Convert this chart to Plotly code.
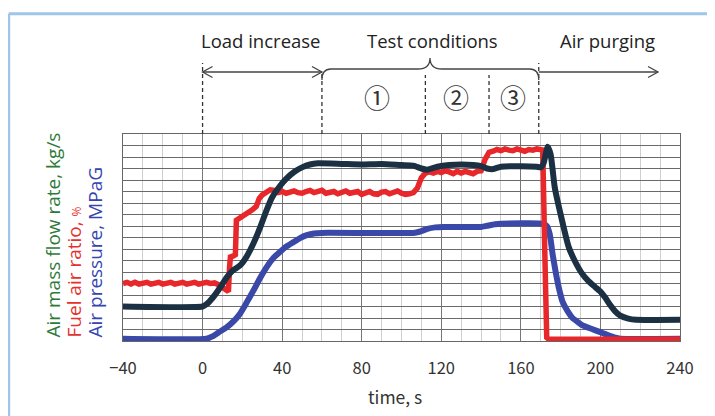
import plotly.graph_objects as go

# ---------------- data (grid units, 0..18) ----------------
t_air = [-40, 0, 2, 5.5, 9, 12, 15, 19, 22, 25.6, 29, 32, 35, 39, 42, 46, 50, 54, 58,
         70, 80, 90, 100, 106, 110, 113, 118, 124, 130, 136, 140, 143, 146, 150, 160,
         168, 170, 171.5, 173.5, 175, 177, 180, 184, 187, 190.6, 194, 197.3, 200,
         202.3, 205, 207.3, 210, 214, 218, 240]
air_flow = [3.0, 3.0, 3.2, 3.85, 4.7, 5.5, 6.1, 6.6, 7.3, 8.5, 9.9, 11.3, 12.5, 13.5,
            14.1, 14.7, 15.1, 15.35, 15.45, 15.4, 15.35, 15.4, 15.3, 15.25, 15.0, 14.9,
            15.15, 15.3, 15.35, 15.3, 15.2, 15.0, 14.95, 15.15, 15.2, 15.15, 15.1, 15.5,
            16.9, 16.2, 13.4, 11.0, 8.2, 7.0, 5.9, 5.2, 4.7, 4.3, 3.8, 3.1, 2.6, 2.2,
            1.95, 1.85, 1.85]

t_far = [-40, -38, -36, -34, -32, -30, -28, -26, -24, -22, -20, -18, -16, -14, -12, -10,
         -8, -6, -4, -2, 0, 2, 4, 6, 8, 10, 12, 13, 13.6, 14, 15.5, 16.5, 17, 19, 21, 23,
         25, 27, 28.5, 30, 32, 34, 36, 38, 40, 42, 44, 46, 48, 50, 52, 54, 56, 58, 60,
         62, 64, 66, 68, 70, 72, 74, 76, 78, 80, 82, 84, 86, 88, 90, 92, 94, 96, 98, 100,
         102, 104, 106, 108, 110, 112, 114, 116, 118, 120, 122, 124, 126, 128, 130, 132,
         134, 136, 138, 140, 142, 144, 146, 148, 150, 152, 154, 156, 158, 160, 162, 164,
         166, 168, 170, 171, 172, 173, 174, 240]
fuel_air = [5.0, 5.1, 4.95, 5.1, 4.95, 5.05, 5.1, 4.95, 5.05, 5.1, 4.95, 5.05, 5.1, 4.95,
            5.05, 5.1, 4.95, 5.0, 5.1, 4.95, 5.05, 5.1, 5.0, 5.05, 4.9, 4.7, 4.45, 4.3,
            6.5, 7.3, 7.4, 7.5, 10.5, 10.7, 11.0, 11.2, 11.4, 11.7, 12.4, 12.7, 13.0,
            13.15, 13.1, 12.9, 13.0, 12.85, 12.95, 13.05, 12.9, 12.85, 13.0, 13.1, 12.9,
            12.95, 13.1, 12.85, 12.95, 13.0, 12.8, 12.9, 13.05, 12.85, 12.9, 13.0, 12.75,
            12.85, 13.0, 12.8, 12.75, 12.95, 13.0, 12.8, 12.9, 13.05, 12.85, 12.75, 12.8,
            12.9, 13.3, 14.2, 14.6, 14.7, 14.6, 14.75, 14.65, 14.8, 14.7, 14.55, 14.75,
            14.6, 14.75, 14.65, 14.55, 14.75, 14.8, 15.8, 16.4, 16.5, 16.65, 16.55, 16.7,
            16.6, 16.55, 16.7, 16.6, 16.5, 16.65, 16.6, 16.7, 16.7, 16.6, 8.0, 0.3, 0.15,
            0.15]

t_pres = [-40, 2, 5, 8.5, 12.2, 15.5, 18.9, 22, 25.6, 29, 32.3, 35.5, 39, 42, 45.7, 49,
          52.4, 56, 60, 106, 109, 113, 117, 121, 140, 143, 147, 150, 171, 173, 174.5, 176,
          177.5, 179, 181, 183.5, 186, 189, 191, 194, 197.5, 201, 204, 207, 210, 240]
air_pres = [0.2, 0.2, 0.4, 0.8, 1.2, 1.7, 2.4, 3.3, 4.4, 5.5, 6.45, 7.2, 7.76, 8.2, 8.6,
            8.95, 9.2, 9.35, 9.4, 9.4, 9.5, 9.75, 9.88, 9.92, 9.92, 10.02, 10.15, 10.2,
            10.2, 10.0, 9.3, 7.5, 6.0, 4.7, 3.4, 2.6, 2.0, 1.6, 1.35, 1.15, 0.93, 0.7,
            0.5, 0.32, 0.2, 0.2]

x_ticks = [-40, 0, 40, 80, 120, 160, 200, 240]
phase_bounds = [0, 60, 112, 144, 169]
phase_labels = ["Load increase", "Test conditions", "Air purging"]
cond_labels = ["①", "②", "③"]
y_titles = ["Air mass flow rate, kg/s",
            "Fuel air ratio, <span style='font-size:12px'>%</span>",
            "Air pressure, MPaG"]

NAVY = "#1b3043"
RED = "#e8272a"
BLUE = "#3a49a8"
FONT = "Open Sans"
NUMFONT = "Noto Sans CJK JP"

# geometry (reference-window pixels); page body has 8px margin -> offset
OFF = 8
FW, FH = 715 - OFF, 416 - OFF
L, T, W, H = 123 - OFF, 134 - OFF, 557, 207


def py(p):  # reference pixel y -> paper y
    return (T + H - (p - OFF)) / H


def px(p):  # reference pixel x -> paper x
    return ((p - OFF) - L) / W


def tx(p):  # reference pixel x -> data x
    return -40 + ((p - OFF) - L) * 280 / W


fig = go.Figure()
fig.add_trace(go.Scatter(x=t_pres, y=air_pres, mode="lines",
                         line=dict(color=BLUE, width=6, shape="spline", smoothing=0.5),
                         showlegend=False))
fig.add_trace(go.Scatter(x=t_far, y=fuel_air, mode="lines",
                         line=dict(color=RED, width=5.5), showlegend=False))
fig.add_trace(go.Scatter(x=t_air, y=air_flow, mode="lines",
                         line=dict(color=NAVY, width=6, shape="spline", smoothing=0.5),
                         showlegend=False))

shapes = []
# dashed phase boundaries
tops = [py(63), py(71), py(75), py(75), py(63)]
for b, top in zip(phase_bounds, tops):
    shapes.append(dict(type="line", xref="x", yref="paper", x0=b, x1=b, y0=1, y1=top,
                       line=dict(color="#333", width=1.3, dash="4px,3px")))

lc = dict(color="#444", width=1.3)
# double arrow Load increase
ya = py(72)
dx = 5
dy = 5.5 / H
shapes.append(dict(type="line", xref="x", yref="paper", x0=phase_bounds[0], x1=phase_bounds[1],
                   y0=ya, y1=ya, line=lc))
for xe, s in [(phase_bounds[0], 1), (phase_bounds[1], -1)]:
    shapes.append(dict(type="path", xref="x", yref="paper",
                       path=f"M {xe + s*dx},{ya + dy} L {xe},{ya} L {xe + s*dx},{ya - dy}",
                       line=lc))
# brace for Test conditions
x0b, x1b = phase_bounds[1], phase_bounds[4]
xm = tx(430)
yb, yc, ye = py(69), py(58), py(80)
r = 4.5
path = (f"M {x0b},{ye} Q {x0b},{yb} {x0b + r},{yb} L {xm - 6},{yb} "
        f"Q {xm},{yb} {xm},{yc} Q {xm},{yb} {xm + 6},{yb} L {x1b - r},{yb} "
        f"Q {x1b},{yb} {x1b},{ye}")
shapes.append(dict(type="path", xref="x", yref="paper", path=path, line=lc))
# purge arrow
xend = tx(658)
shapes.append(dict(type="line", xref="x", yref="paper", x0=phase_bounds[4], x1=xend,
                   y0=ya, y1=ya, line=lc))
shapes.append(dict(type="path", xref="x", yref="paper",
                   path=f"M {xend - dx},{ya + dy} L {xend},{ya} L {xend - dx},{ya - dy}",
                   line=lc))
# light blue frame
shapes.append(dict(type="line", xref="paper", yref="paper", x0=px(8.7), x1=px(740),
                   y0=py(13.7), y1=py(13.7), line=dict(color="#9fc5e8", width=3)))
shapes.append(dict(type="line", xref="paper", yref="paper", x0=px(8.7), x1=px(8.7),
                   y0=py(13.7), y1=py(440), line=dict(color="#9fc5e8", width=3)))

ann = []
for lab, xc in zip(phase_labels, [tx(261), tx(432), tx(607)]):
    ann.append(dict(text=lab, x=xc, y=py(40), xref="x", yref="paper", showarrow=False,
                    font=dict(family=FONT, size=18.5, color="#222"),
                    xanchor="center", yanchor="middle"))
for lab, xc in zip(cond_labels, [tx(377), tx(456), tx(513)]):
    ann.append(dict(text=lab, x=xc, y=py(96), xref="x", yref="paper", showarrow=False,
                    font=dict(family=NUMFONT, size=26, color="#333"),
                    xanchor="center", yanchor="middle"))
for lab, xc, col in zip(y_titles, [52, 73, 94], ["#2f7a3a", "#e53030", "#3545b0"]):
    ann.append(dict(text=lab, x=px(xc), y=py(340), xref="paper", yref="paper",
                    showarrow=False, textangle=-90,
                    font=dict(family=FONT, size=19, color=col),
                    xanchor="center", yanchor="bottom"))
ann.append(dict(text="time, s", x=px(395), y=py(396), xref="paper", yref="paper",
                showarrow=False, font=dict(family=NUMFONT, size=17.5, color="#333"),
                xanchor="center", yanchor="middle"))

fig.update_layout(
    width=FW, height=FH,
    margin=dict(l=L, r=FW - L - W, t=T, b=FH - T - H),
    paper_bgcolor="white", plot_bgcolor="white",
    shapes=shapes, annotations=ann,
    font=dict(family=FONT),
)
fig.update_xaxes(range=[-40, 240], tickvals=x_ticks, showgrid=True,
                 gridcolor="#777", gridwidth=1,
                 minor=dict(dtick=10, showgrid=True, gridcolor="#cfcfcf", gridwidth=1),
                 showline=True, linecolor="#666", linewidth=1, mirror=True,
                 ticks="", ticklabelstandoff=12,
                 tickfont=dict(family=NUMFONT, size=16.5, color="#333"), zeroline=False)
fig.update_yaxes(range=[0, 18], dtick=1, showticklabels=False, showgrid=True,
                 gridcolor="#6a6a6a", gridwidth=1, showline=True, linecolor="#666",
                 linewidth=1, mirror=True, ticks="", zeroline=False)

fig.write_html("out.html")
